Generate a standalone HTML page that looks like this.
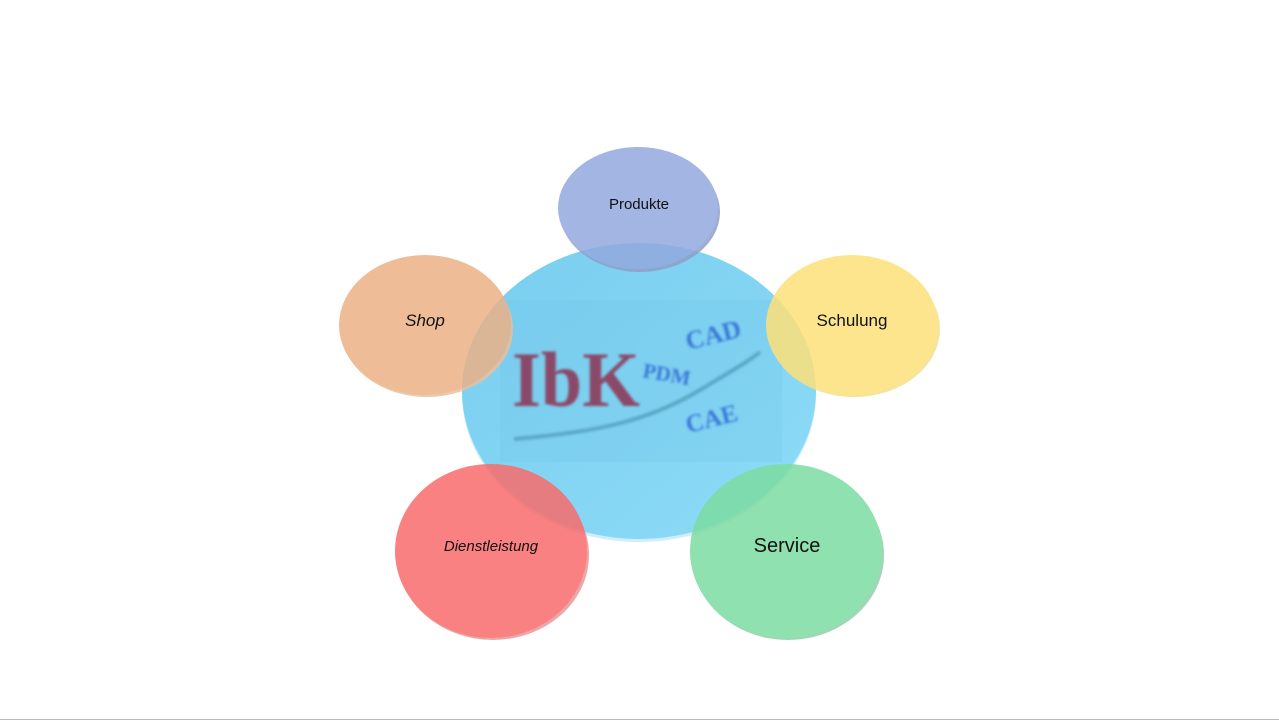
<!DOCTYPE html>
<html><head><meta charset="utf-8"><style>
html,body{margin:0;padding:0;background:#fff;}
svg{display:block;}
</style></head><body>
<svg width="1279" height="721" viewBox="0 0 1279 721" xmlns="http://www.w3.org/2000/svg">
<defs>
<filter id="bl" x="-10%" y="-10%" width="120%" height="120%"><feGaussianBlur stdDeviation="1.2"/></filter>
<linearGradient id="gc" x1="0" y1="0" x2="1" y2="1"><stop offset="0" stop-color="#79cdef"/><stop offset="1" stop-color="#8ddcf7"/></linearGradient>
</defs>
<rect width="1279" height="721" fill="#fff"/>
<line x1="0" y1="719.5" x2="1279" y2="719.5" stroke="#bbb" stroke-width="1"/>
<ellipse cx="639" cy="394" rx="177" ry="148" fill="#cfeef9"/>
<ellipse cx="639" cy="391" rx="177" ry="148" fill="url(#gc)"/>
<rect x="500" y="300" width="282" height="162" fill="#6fc4e8" opacity="0.25"/>
<g filter="url(#bl)">
<text x="512" y="406" font-family="Liberation Serif, serif" font-weight="bold" font-size="78" fill="#8a4a68" textLength="128" lengthAdjust="spacingAndGlyphs">IbK</text>
<text x="642" y="377" font-family="Liberation Serif, serif" font-weight="bold" font-size="21" fill="#3a78d8" transform="rotate(10 642 377)">PDM</text>
<text x="688" y="350" font-family="Liberation Serif, serif" font-weight="bold" font-size="26" fill="#3a78d8" transform="rotate(-14 688 350)">CAD</text>
<text x="688" y="433" font-family="Liberation Serif, serif" font-weight="bold" font-size="25" fill="#3a78d8" transform="rotate(-14 688 433)">CAE</text>
<path d="M514 439 C600 432 650 420 700 390 S750 360 760 352" stroke="#5aa8c8" stroke-width="4" fill="none"/>
</g>
<g opacity="0.85">
<ellipse cx="640" cy="212" rx="80" ry="60" fill="#8fa0c8"/>
<ellipse cx="638" cy="208" rx="80" ry="61" fill="#93aadf"/>
<ellipse cx="427" cy="329" rx="86" ry="68" fill="#e8c0a0"/>
<ellipse cx="425" cy="325" rx="86" ry="70" fill="#ecb287"/>
<ellipse cx="854" cy="329" rx="86" ry="68" fill="#f5e08a"/>
<ellipse cx="852" cy="325" rx="86" ry="70" fill="#fde17a"/>
<ellipse cx="493" cy="555" rx="96" ry="85" fill="#e89898"/>
<ellipse cx="491" cy="551" rx="96" ry="87" fill="#f86c6c"/>
<ellipse cx="788" cy="555" rx="96" ry="85" fill="#8fcfa8"/>
<ellipse cx="786" cy="551" rx="96" ry="87" fill="#7cdca2"/>
</g>
<g font-family="Liberation Sans, sans-serif" fill="#111" text-anchor="middle">
<text x="639" y="209" font-size="15">Produkte</text>
<text x="425" y="326" font-size="17" font-style="italic">Shop</text>
<text x="852" y="326" font-size="17">Schulung</text>
<text x="491" y="551" font-size="15" font-style="italic">Dienstleistung</text>
<text x="787" y="552" font-size="20">Service</text>
</g>
</svg>
</body></html>
